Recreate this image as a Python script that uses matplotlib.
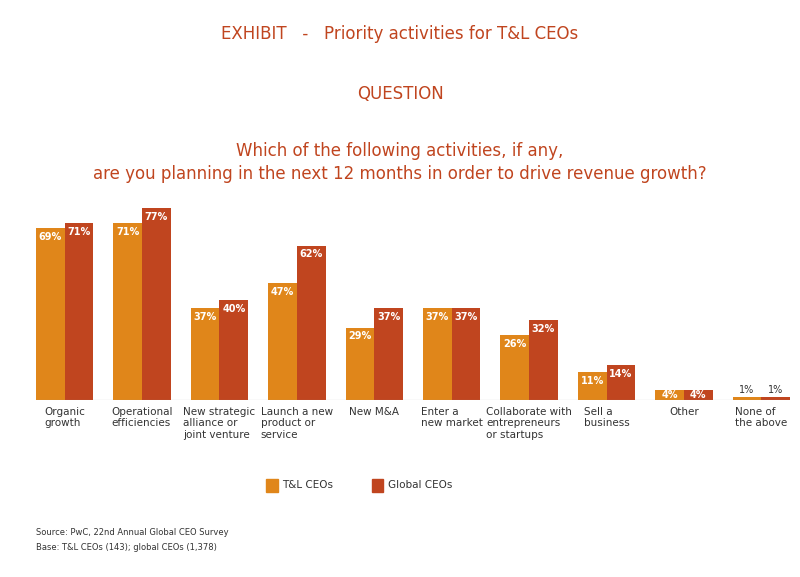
import matplotlib
matplotlib.use("Agg")
import matplotlib.pyplot as plt
import numpy as np
from matplotlib.patches import Rectangle

categories = ["Organic\ngrowth", "Operational\nefficiencies", "New strategic\nalliance or\njoint venture",
              "Launch a new\nproduct or\nservice", "New M&A", "Enter a\nnew market",
              "Collaborate with\nentrepreneurs\nor startups", "Sell a\nbusiness", "Other", "None of\nthe above"]
tl_ceos = [69, 71, 37, 47, 29, 37, 26, 11, 4, 1]
global_ceos = [71, 77, 40, 62, 37, 37, 32, 14, 4, 1]

ORANGE = "#E0861A"
RED = "#C0451F"
TITLE = "#C0451F"
TEXT = "#333333"

fig = plt.figure(figsize=(8, 5.77), dpi=100)
fig.text(0.5, 0.932, "EXHIBIT   -   Priority activities for T&L CEOs", ha="center", color=TITLE, fontsize=12)
fig.text(0.5, 0.829, "QUESTION", ha="center", color=TITLE, fontsize=12)
fig.text(0.5, 0.69, "Which of the following activities, if any,\nare you planning in the next 12 months in order to drive revenue growth?",
         ha="center", color=TITLE, fontsize=12, linespacing=1.35)

ax = fig.add_axes([0.045, 0.307, 0.9425, 0.345])
x = np.arange(len(categories))
w = 0.37
b1 = ax.bar(x - w / 2, tl_ceos, w, color=ORANGE)
b2 = ax.bar(x + w / 2, global_ceos, w, color=RED)
for bars in (b1, b2):
    for r in bars:
        v = r.get_height()
        cx = r.get_x() + r.get_width() / 2
        if v >= 10:
            ax.text(cx, v - 1.5, f"{v:.0f}%", ha="center", va="top", color="white", fontsize=7, fontweight="bold")
        elif v >= 3:
            ax.text(cx, v / 2, f"{v:.0f}%", ha="center", va="center", color="white", fontsize=7, fontweight="bold")
        else:
            ax.text(cx, v + 0.8, f"{v:.0f}%", ha="center", va="bottom", color=TEXT, fontsize=7)
ax.set_xlim(-w, len(categories) - 1 + w)
ax.set_ylim(0, 80)
ax.axhline(0, color="#999999", lw=0.8)
for s in ax.spines.values():
    s.set_visible(False)
ax.set_yticks([])
ax.set_xticks(x)
ax.set_xticklabels(categories, fontsize=7.5, color=TEXT, va="top", multialignment="left")
ax.tick_params(axis="x", length=0, pad=5)

# legend
fig.patches.append(Rectangle((0.333, 0.148), 0.014, 0.022, transform=fig.transFigure, color=ORANGE))
fig.text(0.353, 0.159, "T&L CEOs", va="center", fontsize=7.5, color=TEXT)
fig.patches.append(Rectangle((0.465, 0.148), 0.014, 0.022, transform=fig.transFigure, color=RED))
fig.text(0.485, 0.159, "Global CEOs", va="center", fontsize=7.5, color=TEXT)

fig.text(0.045, 0.073, "Source: PwC, 22nd Annual Global CEO Survey", fontsize=6, color=TEXT)
fig.text(0.045, 0.047, "Base: T&L CEOs (143); global CEOs (1,378)", fontsize=6, color=TEXT)

fig.savefig("out.png", dpi=100)
